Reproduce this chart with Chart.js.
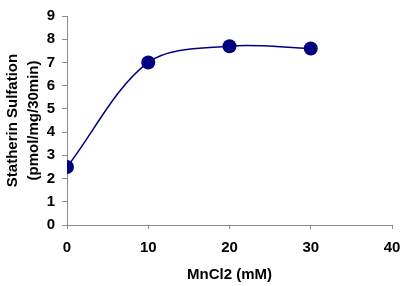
<!DOCTYPE html>
<html>
<head>
<meta charset="utf-8">
<script src="https://cdn.jsdelivr.net/npm/chart.js@4.4.1/dist/chart.umd.min.js"></script>
<style>
  html, body { margin: 0; padding: 0; background: #ffffff; }
  canvas { display: block; }
</style>
</head>
<body>
<canvas id="sulfationChart" width="404" height="286"></canvas>
<script>
// MnCl2 concentration (mM) vs statherin sulfation
const mnCl2 = [0, 10, 20, 30];
const sulfation = [2.5, 7.0, 7.7, 7.6];

const xTitle = 'MnCl2 (mM)';
const yTitle = ['Statherin Sulfation', '(pmol/mg/30min)'];

const axisGray = '#8c8c8c';
const navy = '#000080';
const fontFamily = 'Arial, "Liberation Sans", sans-serif';

const tickFont = { family: fontFamily, size: 15, weight: 'bold' };

const ctx = document.getElementById('sulfationChart').getContext('2d');
new Chart(ctx, {
    type: 'line',
    data: {
        datasets: [{
            label: 'Statherin Sulfation',
            data: mnCl2.map((x, i) => ({ x: x, y: sulfation[i] })),
            borderColor: navy,
            backgroundColor: navy,
            borderWidth: 1.5,
            pointRadius: 7,
            pointHoverRadius: 7,
            pointBorderWidth: 0,
            tension: 0.33,
            fill: false
        }]
    },
    options: {
        responsive: false,
        animation: false,
        layout: {
            padding: { left: 0, right: 12, top: 13, bottom: 0 }
        },
        plugins: {
            legend: { display: false },
            tooltip: { enabled: false }
        },
        scales: {
            x: {
                type: 'linear',
                min: 0,
                max: 40,
                ticks: {
                    stepSize: 10,
                    color: '#000000',
                    font: tickFont,
                    padding: 10,
                    maxRotation: 0
                },
                grid: {
                    drawOnChartArea: false,
                    color: axisGray,
                    tickLength: 4
                },
                border: { color: axisGray, width: 1 },
                title: {
                    display: true,
                    text: xTitle,
                    color: '#000000',
                    font: { family: fontFamily, size: 15, weight: 'bold', lineHeight: 1.2 },
                    padding: { top: 0, bottom: 2 }
                },
                afterFit: function (scale) {
                    scale.height = 61;
                    scale.paddingLeft = 0;
                    scale.paddingRight = 0;
                }
            },
            y: {
                min: 0,
                max: 9,
                ticks: {
                    stepSize: 1,
                    color: '#000000',
                    font: tickFont,
                    padding: 7
                },
                grid: {
                    drawOnChartArea: false,
                    color: axisGray,
                    tickLength: 5
                },
                border: { color: axisGray, width: 1 },
                title: {
                    display: true,
                    text: yTitle,
                    color: '#000000',
                    font: { family: fontFamily, size: 15, weight: 'bold', lineHeight: 1.4 },
                    padding: { top: 2, bottom: 0 }
                },
                afterFit: function (scale) { scale.width = 67; }
            }
        }
    }
});
</script>
</body>
</html>
